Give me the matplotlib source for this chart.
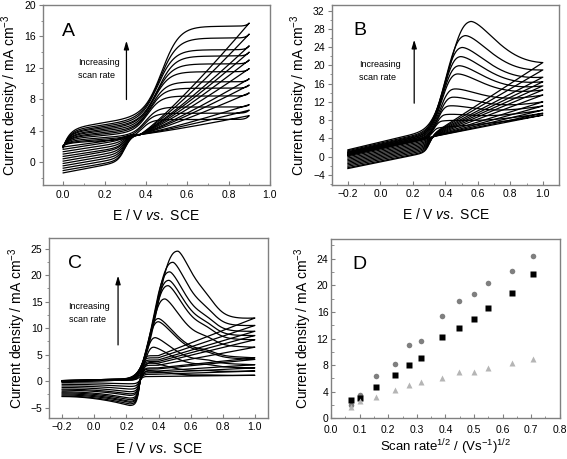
import numpy as np
import matplotlib
matplotlib.use("Agg")
import matplotlib.pyplot as plt
from matplotlib.ticker import MultipleLocator

plt.rcParams['font.family'] = ['Liberation Sans', 'DejaVu Sans']
plt.rcParams['mathtext.fontset'] = 'custom'
plt.rcParams['mathtext.rm'] = 'Liberation Sans'
plt.rcParams['mathtext.it'] = 'Liberation Sans:italic'

# ---- panel A: per-curve values (slowest -> fastest scan)
a_start = [2.1, 2.1, 2.0, 2.0, 2.0, 2.0, 1.9, 1.9, 1.9, 1.9, 1.8, 1.8]
a_cap = [2.4, 2.5, 2.7, 2.9, 3.1, 3.2, 3.4, 3.5, 3.7, 3.8, 4.0, 4.2]
a_cap25 = [2.8, 3.0, 3.2, 3.5, 3.7, 3.9, 4.1, 4.3, 4.5, 4.7, 4.9, 5.2]
a_ec = [0.38, 0.39, 0.40, 0.41, 0.42, 0.43, 0.44, 0.45, 0.46, 0.46, 0.47, 0.48]
a_ew = [0.05, 0.055, 0.06, 0.065, 0.07, 0.07, 0.075, 0.08, 0.08, 0.08, 0.085, 0.085]
a_plat = [5.4, 6.2, 7.0, 8.4, 9.4, 10.2, 11.5, 12.5, 13.5, 14.3, 15.8, 17.3]
a_end = [5.9, 6.6, 7.3, 8.8, 9.8, 10.6, 11.9, 13.0, 14.0, 14.8, 16.3, 17.7]
a_rx = 3.5
a_r0 = [1.9, 1.6, 1.3, 1.0, 0.7, 0.4, 0.1, -0.2, -0.5, -0.8, -1.1, -1.4]
a_r2 = [2.7, 2.5, 2.2, 1.9, 1.6, 1.4, 1.1, 0.8, 0.5, 0.2, -0.1, -0.3]

# ---- panel B
b_f0 = [0.2, 0.3, 0.4, 0.5, 0.6, 0.7, 0.8, 0.9, 1.0, 1.1, 1.3, 1.5]
b_f25 = [3.6, 3.7, 3.8, 3.9, 4.0, 4.2, 4.3, 4.5, 4.6, 4.8, 5.0, 5.3]
b_pk = [6.3, 7.8, 9.2, 11.1, 13.0, 14.8, 18.1, 19.9, 21.9, 23.9, 26.5, 29.6]
b_ep = [0.36, 0.38, 0.40, 0.42, 0.44, 0.45, 0.47, 0.48, 0.49, 0.50, 0.52, 0.555]
b_end = [9.1, 9.5, 10.2, 11.1, 12.0, 13.5, 14.6, 15.5, 16.4, 17.4, 19.0, 20.6]
b_r4 = [4.9, 5.0, 5.1, 5.2, 5.4, 5.6, 5.8, 6.0, 6.2, 6.4, 6.6, 6.8]
b_r0 = [0.8, 0.4, 0.0, -0.3, -0.6, -0.9, -1.2, -1.5, -1.8, -2.1, -2.4, -2.6]
b_r2 = [3.6, 3.2, 2.9, 2.6, 2.3, 2.0, 1.7, 1.4, 1.1, 0.8, 0.5, 0.3]

# ---- panel C
c_f0 = [-0.1, -0.1, -0.1, 0.0, 0.0, 0.0, 0.0, 0.0, 0.1, 0.1, 0.1, 0.1]
c_f22 = [0.2, 0.2, 0.2, 0.3, 0.3, 0.3, 0.3, 0.3, 0.4, 0.4, 0.4, 0.4]
c_pk = [2.0, 3.5, 6.4, 8.2, 11.2, 11.8, 15.5, 18.0, 19.0, 20.6, 22.4, 24.5]
c_ep = [0.34, 0.35, 0.37, 0.38, 0.40, 0.40, 0.44, 0.46, 0.465, 0.47, 0.49, 0.52]
c_end = [1.1, 1.9, 2.5, 3.1, 4.1, 4.4, 6.4, 7.8, 8.6, 9.4, 10.5, 11.9]
c_r4 = [0.9, 1.3, 1.6, 1.9, 2.3, 2.5, 3.0, 3.4, 3.7, 4.0, 4.4, 4.8]
c_rmin = [-0.5, -1.0, -1.5, -2.0, -2.4, -2.7, -3.2, -3.5, -3.8, -4.0, -4.3, -4.6]
c_r0 = [-0.3, -0.6, -0.9, -1.2, -1.5, -1.7, -2.0, -2.2, -2.4, -2.6, -2.8, -2.9]

# ---- panel D: peak current vs sqrt(scan rate)
sqrt_rate = [0.071, 0.100, 0.158, 0.224, 0.274, 0.316, 0.387, 0.447, 0.500, 0.548, 0.632, 0.707]
d_circle = [1.95, 3.45, 6.35, 8.2, 11.1, 11.7, 15.4, 17.7, 18.7, 20.4, 22.15, 24.35]
d_square = [2.75, 3.0, 4.7, 6.55, 8.0, 9.05, 12.25, 13.65, 14.9, 16.55, 18.9, 21.7]
d_triangle = [1.65, 2.6, 3.2, 4.2, 4.95, 5.4, 6.1, 6.95, 7.0, 7.6, 8.3, 8.85]

YLAB = r"Current density / mA cm$^{-3}$"
XLAB = r"E / V $\mathit{vs.}$ SCE"
SPINE = '#808080'


def step(E, c, w):
    return 0.5 * (1 + np.tanh((E - c) / w))


def peak_fwd(ef, lin, ep, pk, end, foot, tau, q, sh=0.0):
    lin_ep = np.interp(ep, ef, lin)
    amp = pk - lin_ep
    wl = (ep - foot) / 1.685
    d = np.abs(ef - ep)
    rise = lin + amp * np.exp(-(d / wl) ** 2.4)
    dec_end = q + (1 - q) * np.exp(-((ef[-1] - ep) / tau) ** 1.5)
    bend = end - amp * dec_end
    base = lin_ep + (bend - lin_ep) * (ef - ep) / (ef[-1] - ep)
    fall = base + amp * (q + (1 - q) * np.exp(-(d / tau) ** 1.5))
    fall = fall + sh * amp * np.exp(-((ef - 0.7) / 0.08) ** 2)
    return np.where(ef < ep, rise, fall)


def curve_a(i):
    ef = np.linspace(0.0, 0.9, 300)
    base = (a_start[i] + (a_cap[i] - a_start[i]) * (1 - np.exp(-ef / 0.03))
            + (a_cap25[i] - a_cap[i]) * ef / 0.25)
    s = step(ef, a_ec[i], a_ew[i])
    plat = a_plat[i] + (a_end[i] - a_plat[i]) * np.exp((ef - 0.9) / 0.015)
    fwd = base * (1 - s) + plat * s
    er = np.linspace(0.9, 0.0, 300)
    u = np.clip((er - 0.37) / 0.53, 0, None)
    hi = a_rx + (a_end[i] - a_rx) * u ** 1.15
    low = a_r0[i] + (a_r2[i] - a_r0[i]) * er / 0.22
    s2 = step(er, 0.30, 0.035)
    rev = low * (1 - s2) + hi * s2
    return np.concatenate([ef, er]), np.concatenate([fwd, rev])


def curve_b(i):
    ef = np.linspace(-0.2, 1.0, 400)
    lin = b_f0[i] + (b_f25[i] - b_f0[i]) * (ef + 0.2) / 0.45
    fwd = peak_fwd(ef, lin, b_ep[i], b_pk[i], b_end[i], 0.27, 0.25, 0.35)
    er = np.linspace(1.0, -0.2, 400)
    hi = b_r4[i] + (b_end[i] - b_r4[i]) * (er - 0.4) / 0.6
    low = b_r0[i] + (b_r2[i] - b_r0[i]) * (er + 0.2) / 0.4
    s = step(er, 0.3, 0.03)
    rev = low * (1 - s) + hi * s
    return np.concatenate([ef, er]), np.concatenate([fwd, rev])


def curve_c(i):
    ef = np.linspace(-0.2, 1.0, 400)
    lin = c_f0[i] + (c_f22[i] - c_f0[i]) * (ef + 0.2) / 0.42
    fwd = peak_fwd(ef, lin, c_ep[i], c_pk[i], c_end[i], 0.25, 0.16, 0.42, sh=0.05)
    er = np.linspace(1.0, -0.2, 400)
    hi = np.where(er > 0.4, c_r4[i] + (c_end[i] - c_r4[i]) * (er - 0.4) / 0.6, c_r4[i])
    low = np.where(er <= 0.22,
                   c_r0[i] + (c_rmin[i] - c_r0[i]) * (np.clip(er + 0.2, 0, None) / 0.42) ** 2,
                   c_rmin[i])
    s = step(er, 0.285, 0.02)
    rev = low * (1 - s) + hi * s
    return np.concatenate([ef, er]), np.concatenate([fwd, rev])


def style(ax, xmaj, xmin, ymaj, ymin, ydir='out', xpad=3):
    for sp in ax.spines.values():
        sp.set_color(SPINE)
        sp.set_linewidth(1.0)
    ax.xaxis.set_major_locator(MultipleLocator(xmaj))
    ax.xaxis.set_minor_locator(MultipleLocator(xmin))
    ax.yaxis.set_major_locator(MultipleLocator(ymaj))
    ax.yaxis.set_minor_locator(MultipleLocator(ymin))
    ax.tick_params(axis='x', which='both', direction='in', color=SPINE, labelsize=7.5, pad=xpad)
    ax.tick_params(axis='y', which='both', direction=ydir, color=SPINE, labelsize=7.5, pad=2)
    ax.tick_params(which='major', length=3)
    ax.tick_params(which='minor', length=1.8)
    ax.set_ylabel(YLAB, fontsize=10, labelpad=2)


fig = plt.figure(figsize=(5.67, 4.59), dpi=100)
arrow = dict(arrowstyle='-|>,head_length=0.5,head_width=0.15', color='black', lw=0.9)

# A
ax = fig.add_axes([0.075, 0.596, 0.401, 0.393])
for i in range(len(a_end)):
    x, y = curve_a(i)
    ax.plot(x, y, color='black', lw=0.9)
ax.set_xlim(-0.1, 1.0)
ax.set_ylim(-3, 20)
style(ax, 0.2, 0.1, 4, 2)
ax.set_xlabel(XLAB, fontsize=10, labelpad=6)
ax.text(0.086, 0.853, 'A', transform=ax.transAxes, fontsize=14, va='center')
ax.text(0.07, 11.8, 'Increasing\nscan rate', fontsize=6.5, va='center', linespacing=1.6)
ax.annotate('', xy=(0.306, 15.8), xytext=(0.306, 7.6), arrowprops=arrow)

# B
ax = fig.add_axes([0.585, 0.597, 0.401, 0.392])
for i in range(len(b_end)):
    x, y = curve_b(i)
    ax.plot(x, y, color='black', lw=0.9)
ax.set_xlim(-0.3, 1.1)
ax.set_ylim(-6.2, 33.2)
style(ax, 0.2, 0.1, 4, 2)
ax.set_xlabel(XLAB, fontsize=10, labelpad=6)
ax.text(0.094, 0.861, 'B', transform=ax.transAxes, fontsize=14, va='center')
ax.text(-0.13, 18.8, 'Increasing\nscan rate', fontsize=6.5, va='center', linespacing=1.6)
ax.annotate('', xy=(0.208, 26.2), xytext=(0.208, 11.1), arrowprops=arrow)

# C
ax = fig.add_axes([0.087, 0.0887, 0.386, 0.393])
for i in range(len(c_end)):
    x, y = curve_c(i)
    ax.plot(x, y, color='black', lw=0.9)
ax.set_xlim(-0.28, 1.083)
ax.set_ylim(-7, 27)
style(ax, 0.2, 0.1, 5, 2.5)
ax.set_xlabel(XLAB, fontsize=10, labelpad=6)
ax.text(0.085, 0.857, 'C', transform=ax.transAxes, fontsize=14, va='center')
ax.text(-0.16, 12.9, 'Increasing\nscan rate', fontsize=6.5, va='center', linespacing=1.6)
ax.annotate('', xy=(0.148, 20.4), xytext=(0.148, 6.3), arrowprops=arrow)

# D
ax = fig.add_axes([0.584, 0.0887, 0.403, 0.391])
ax.plot(sqrt_rate, d_circle, 'o', color='#7f7f7f', ms=4, mec='none')
ax.plot(sqrt_rate, d_square, 's', color='black', ms=3.8, mec='none')
ax.plot(sqrt_rate, d_triangle, '^', color='#b5b5b5', ms=4.5, mec='none')
ax.set_xlim(0.0, 0.8)
ax.set_ylim(0, 27)
style(ax, 0.1, 0.05, 4, 2, ydir='in', xpad=4.5)
ax.set_xlabel(r"Scan rate$^{1/2}$ / (Vs$^{-1}$)$^{1/2}$", fontsize=9.5, labelpad=2)
ax.text(0.092, 0.855, 'D', transform=ax.transAxes, fontsize=14, va='center')

fig.savefig('out.png', dpi=100)
